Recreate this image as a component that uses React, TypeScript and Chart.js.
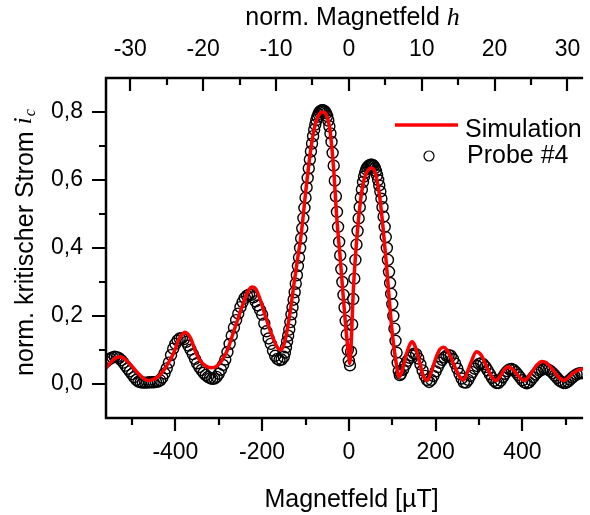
import React, { useEffect, useRef } from "react";
import { Chart, registerables } from "chart.js";

Chart.register(...registerables);

// Simulation (red line): field in µT, normalized critical current
const simField = [
  -560, -550, -540, -528, -515, -500, -485, -472, -463, -452, -440, -430, -418, -405, -392, -378, -365, -355,
  -345, -330, -318, -310, -300, -290, -280, -268, -255, -240, -230, -223, -215, -205, -195, -185, -175, -165,
  -158, -150, -142, -134, -126, -118, -110, -100, -90, -80, -70, -60, -50, -43, -35, -28, -20, -13, -6, -1, 2,
  6, 10, 16, 25, 33, 40, 47, 52, 58, 63, 70, 78, 86, 93, 100, 108, 116, 123, 132, 140, 146, 153, 162, 170, 180,
  190, 200, 210, 218, 226, 236, 248, 258, 264, 272, 282, 294, 305, 318, 330, 339, 348, 357, 366, 376, 388, 398,
  404, 412, 422, 433, 445, 456, 468, 480, 490, 496, 505, 515, 529, 540,
];
const simIc = [
  0.046, 0.062, 0.075, 0.08, 0.072, 0.052, 0.03, 0.015, 0.01, 0.013, 0.022, 0.035, 0.058, 0.088, 0.13, 0.152,
  0.135, 0.1, 0.072, 0.053, 0.048, 0.049, 0.058, 0.075, 0.1, 0.145, 0.195, 0.25, 0.278, 0.285, 0.28, 0.25, 0.21,
  0.17, 0.135, 0.108, 0.1, 0.115, 0.16, 0.225, 0.3, 0.37, 0.44, 0.56, 0.67, 0.75, 0.79, 0.8, 0.785, 0.74, 0.63,
  0.49, 0.37, 0.256, 0.15, 0.09, 0.06, 0.14, 0.27, 0.39, 0.52, 0.59, 0.62, 0.633, 0.635, 0.63, 0.61, 0.56, 0.47,
  0.36, 0.25, 0.15, 0.07, 0.02, 0.04, 0.085, 0.115, 0.124, 0.11, 0.07, 0.03, 0.01, 0.035, 0.075, 0.102, 0.108,
  0.1, 0.075, 0.04, 0.017, 0.012, 0.03, 0.065, 0.095, 0.085, 0.05, 0.02, 0.01, 0.022, 0.04, 0.051, 0.045, 0.028,
  0.014, 0.01, 0.018, 0.035, 0.055, 0.066, 0.062, 0.045, 0.025, 0.013, 0.01, 0.018, 0.03, 0.041, 0.045,
];

// Measurement "Probe #4" (open circles)
const probeField = [
  -560, -555, -550, -545, -540, -535, -530, -525, -520, -515, -510, -505, -500, -495, -490, -485, -480, -475,
  -470, -465, -460, -455, -450, -445, -440, -435, -430, -425, -420, -415, -410, -405, -400, -395, -390, -385,
  -380, -375, -370, -365, -360, -355, -350, -345, -340, -335, -330, -325, -320, -315, -310, -305, -300, -295,
  -290, -285, -280, -275, -270, -265, -260, -255, -250, -245, -240, -235, -230, -225, -220, -215, -210, -205,
  -200, -195, -190, -185, -180, -175, -170, -165, -160, -155,
  -150, -147.5, -145, -142.5, -140, -137.5, -135, -132.5, -130, -127.5, -125, -122.5, -120, -117.5, -115, -112.5,
  -110, -107.5, -105, -102.5, -100, -97.5, -95, -92.5, -90, -87.5, -85, -82.5, -80, -77.5, -75, -72.5, -70, -67.5,
  -65, -62.5, -60, -57.5, -55, -52.5, -50, -47.5, -45, -42.5, -40, -37.5, -35, -32.5, -30, -27.5, -25, -22.5, -20,
  -17.5, -15, -12.5, -10, -7.5, -5, -2.5, 0, 2.5, 5, 7.5, 10, 12.5, 15, 17.5, 20, 22.5, 25, 27.5, 30, 32.5, 35,
  37.5, 40, 42.5, 45, 47.5, 50, 52.5, 55, 57.5, 60, 62.5, 65, 67.5, 70, 72.5, 75, 77.5, 80, 82.5, 85, 87.5, 90,
  92.5, 95, 97.5, 100, 102.5, 105, 107.5, 110, 112.5, 115, 117.5, 120,
  125, 130, 135, 140, 145, 150, 155, 160, 165, 170, 175, 180, 185, 190, 195, 200, 205, 210, 215, 220, 225, 230,
  235, 240, 245, 250, 255, 260, 265, 270, 275, 280, 285, 290, 295, 300, 305, 310, 315, 320, 325, 330, 335, 340,
  345, 350, 355, 360, 365, 370, 375, 380, 385, 390, 395, 400, 405, 410, 415, 420, 425, 430, 435, 440, 445, 450,
  455, 460, 465, 470, 475, 480, 485, 490, 495, 500, 505, 510, 515, 520, 525, 530, 535, 540,
];
const probeIc = [
  0.065, 0.071, 0.075, 0.078, 0.08, 0.079, 0.076, 0.07, 0.063, 0.054, 0.045, 0.037, 0.029, 0.02, 0.012, 0.007,
  0.005, 0.004, 0.004, 0.004, 0.005, 0.005, 0.005, 0.006, 0.007, 0.011, 0.019, 0.031, 0.046, 0.063, 0.085, 0.104,
  0.118, 0.128, 0.134, 0.135, 0.132, 0.124, 0.113, 0.101, 0.088, 0.074, 0.061, 0.05, 0.041, 0.033, 0.026, 0.021,
  0.017, 0.015, 0.016, 0.021, 0.03, 0.042, 0.056, 0.072, 0.094, 0.118, 0.142, 0.166, 0.188, 0.207, 0.226, 0.241,
  0.253, 0.26, 0.263, 0.262, 0.255, 0.243, 0.231, 0.218, 0.204, 0.178, 0.155, 0.134, 0.118, 0.098, 0.083, 0.074,
  0.07, 0.072,
  0.08, 0.092, 0.108, 0.125, 0.142, 0.16, 0.182, 0.205, 0.225, 0.248, 0.27, 0.295, 0.32, 0.347, 0.372, 0.4, 0.428,
  0.458, 0.488, 0.518, 0.548, 0.578, 0.606, 0.634, 0.66, 0.684, 0.707, 0.729, 0.748, 0.763, 0.776, 0.786, 0.794,
  0.8, 0.803, 0.805, 0.805, 0.804, 0.801, 0.796, 0.788, 0.775, 0.758, 0.737, 0.712, 0.68, 0.642, 0.598, 0.552,
  0.506, 0.462, 0.418, 0.378, 0.338, 0.3, 0.262, 0.225, 0.186, 0.145, 0.1, 0.068, 0.055, 0.095, 0.175, 0.25, 0.31,
  0.365, 0.41, 0.45, 0.487, 0.52, 0.548, 0.572, 0.594, 0.61, 0.622, 0.631, 0.637, 0.641, 0.643, 0.645, 0.645,
  0.644, 0.641, 0.635, 0.626, 0.614, 0.6, 0.584, 0.566, 0.545, 0.52, 0.492, 0.462, 0.432, 0.4, 0.365, 0.33, 0.297,
  0.265, 0.235, 0.2, 0.163, 0.127, 0.092, 0.062, 0.038, 0.026, 0.03,
  0.042, 0.056, 0.068, 0.077, 0.084, 0.089, 0.088, 0.075, 0.058, 0.04, 0.024, 0.012, 0.006, 0.012, 0.024, 0.037,
  0.05, 0.062, 0.071, 0.078, 0.083, 0.085, 0.083, 0.073, 0.06, 0.045, 0.03, 0.016, 0.005, 0.004, 0.012, 0.024,
  0.035, 0.045, 0.053, 0.059, 0.061, 0.058, 0.05, 0.04, 0.029, 0.018, 0.009, 0.003, 0.003, 0.01, 0.02, 0.03,
  0.038, 0.043, 0.044, 0.041, 0.035, 0.027, 0.019, 0.011, 0.005, 0.002, 0.005, 0.012, 0.02, 0.028, 0.034, 0.039,
  0.042, 0.044, 0.044, 0.042, 0.038, 0.032, 0.025, 0.018, 0.011, 0.006, 0.003, 0.003, 0.007, 0.013, 0.019, 0.024,
  0.028, 0.031, 0.032, 0.032,
];

// Axes
const fieldMin = -560;
const fieldMax = 540;
const icMin = -0.1;
const icMax = 0.9;
const fieldPerH = 16.8; // µT per unit of normalized field h

const xMajorTicks = [-400, -200, 0, 200, 400];
const xMinorTicks = [-500, -300, -100, 100, 300, 500];
const xTickLabels = ["-400", "-200", "0", "200", "400"];
const topMajorTicks = [-30, -20, -10, 0, 10, 20, 30];
const topMinorTicks = [-25, -15, -5, 5, 15, 25];
const topTickLabels = ["-30", "-20", "-10", "0", "10", "20", "30"];
const yMajorTicks = [0, 0.2, 0.4, 0.6, 0.8];
const yMinorTicks = [0.1, 0.3, 0.5, 0.7];
const yTickLabels = ["0,0", "0,2", "0,4", "0,6", "0,8"];

const SANS = '"Liberation Sans", Arial, Helvetica, sans-serif';
const SERIF = '"Liberation Serif", "Times New Roman", serif';

const axesPlugin = {
  id: "originAxes",
  afterDraw(chart: any) {
    const { ctx, chartArea: a, scales } = chart;
    const sx = scales.x;
    const sy = scales.y;
    const st = scales.x2;
    ctx.save();
    ctx.strokeStyle = "#000";
    ctx.fillStyle = "#000";
    ctx.lineWidth = 2.5;
    ctx.lineCap = "butt";
    ctx.beginPath();
    ctx.moveTo(a.left - 1.2, a.top);
    ctx.lineTo(a.right, a.top);
    ctx.moveTo(a.left, a.top);
    ctx.lineTo(a.left, a.bottom);
    ctx.moveTo(a.left - 1.2, a.bottom);
    ctx.lineTo(a.right, a.bottom);
    ctx.stroke();

    ctx.lineWidth = 2.2;
    ctx.beginPath();
    // bottom ticks (outward)
    xMajorTicks.forEach((v) => {
      const px = Math.round(sx.getPixelForValue(v));
      ctx.moveTo(px, a.bottom);
      ctx.lineTo(px, a.bottom + 13);
    });
    xMinorTicks.forEach((v) => {
      const px = Math.round(sx.getPixelForValue(v));
      ctx.moveTo(px, a.bottom);
      ctx.lineTo(px, a.bottom + 7);
    });
    // top ticks (inward)
    topMajorTicks.forEach((v) => {
      const px = Math.round(st.getPixelForValue(v));
      ctx.moveTo(px, a.top);
      ctx.lineTo(px, a.top + 13);
    });
    topMinorTicks.forEach((v) => {
      const px = Math.round(st.getPixelForValue(v));
      ctx.moveTo(px, a.top);
      ctx.lineTo(px, a.top + 7);
    });
    // left ticks (outward)
    yMajorTicks.forEach((v) => {
      const py = Math.round(sy.getPixelForValue(v));
      ctx.moveTo(a.left, py);
      ctx.lineTo(a.left - 14, py);
    });
    yMinorTicks.forEach((v) => {
      const py = Math.round(sy.getPixelForValue(v));
      ctx.moveTo(a.left, py);
      ctx.lineTo(a.left - 7, py);
    });
    ctx.stroke();

    // tick labels
    ctx.font = `23px ${SANS}`;
    ctx.textBaseline = "alphabetic";
    ctx.textAlign = "center";
    xMajorTicks.forEach((v, i) => {
      ctx.fillText(xTickLabels[i], sx.getPixelForValue(v), 459);
    });
    topMajorTicks.forEach((v, i) => {
      ctx.fillText(topTickLabels[i], st.getPixelForValue(v), 56);
    });
    ctx.textAlign = "right";
    yMajorTicks.forEach((v, i) => {
      ctx.fillText(yTickLabels[i], 83, sy.getPixelForValue(v) + 6);
    });

    // bottom title
    ctx.font = `25px ${SANS}`;
    ctx.textAlign = "center";
    ctx.fillText("Magnetfeld [µT]", 351.5, 507);

    // top title with italic h
    ctx.textAlign = "left";
    const t1 = "norm. Magnetfeld ";
    ctx.font = `25px ${SANS}`;
    const w1 = ctx.measureText(t1).width;
    ctx.font = `italic 26px ${SERIF}`;
    const wh = ctx.measureText("h").width;
    const tx = 352.5 - (w1 + wh) / 2;
    ctx.font = `25px ${SANS}`;
    ctx.fillText(t1, tx, 25);
    ctx.font = `italic 26px ${SERIF}`;
    ctx.fillText("h", tx + w1, 25);

    // left title rotated, with italic i and subscript c
    const l1 = "norm. kritischer Strom ";
    ctx.font = `25px ${SANS}`;
    const lw1 = ctx.measureText(l1).width;
    ctx.font = `italic 26px ${SERIF}`;
    const lwi = ctx.measureText("i").width;
    ctx.font = `italic 16px ${SERIF}`;
    const lwc = ctx.measureText("c").width;
    const total = lw1 + lwi + lwc;
    ctx.translate(33, 243 + total / 2);
    ctx.rotate(-Math.PI / 2);
    ctx.font = `25px ${SANS}`;
    ctx.fillText(l1, 0, 0);
    ctx.font = `italic 26px ${SERIF}`;
    ctx.fillText("i", lw1, -2);
    ctx.font = `italic 16px ${SERIF}`;
    ctx.fillText("c", lw1 + lwi + 1, 2);
    ctx.setTransform(1, 0, 0, 1, 0, 0);

    // legend
    ctx.strokeStyle = "#ff0000";
    ctx.lineWidth = 3.5;
    ctx.beginPath();
    ctx.moveTo(395, 125);
    ctx.lineTo(458, 125);
    ctx.stroke();
    ctx.strokeStyle = "#000";
    ctx.lineWidth = 1.2;
    ctx.beginPath();
    ctx.arc(429, 156, 5, 0, Math.PI * 2);
    ctx.stroke();
    ctx.fillStyle = "#000";
    ctx.font = `25px ${SANS}`;
    ctx.textAlign = "left";
    ctx.fillText("Simulation", 465, 136.5);
    ctx.fillText("Probe #4", 467, 163);
    ctx.restore();
  },
};

export default function App() {
  const canvasRef = useRef<HTMLCanvasElement | null>(null);

  useEffect(() => {
    const canvas = canvasRef.current;
    if (!canvas) return;
    const simData = simField.map((x, i) => ({ x, y: simIc[i] }));
    const probeData = probeField.map((x, i) => ({ x, y: probeIc[i] }));
    const chart = new Chart(canvas, {
      type: "line",
      data: {
        datasets: [
          {
            label: "Simulation",
            data: simData,
            borderColor: "#ff0000",
            borderWidth: 3.5,
            pointRadius: 0,
            cubicInterpolationMode: "monotone",
            fill: false,
            order: 0,
          },
          {
            label: "Probe #4",
            data: probeData,
            showLine: false,
            pointRadius: 5.5,
            pointBorderWidth: 1.4,
            pointBorderColor: "#000",
            pointBackgroundColor: "rgba(0,0,0,0)",
            pointStyle: "circle",
            order: 1,
          },
        ],
      },
      options: {
        responsive: false,
        animation: false,
        devicePixelRatio: 1,
        events: [],
        layout: { padding: { left: 106, right: 0, top: 78, bottom: 97 } },
        plugins: { legend: { display: false }, tooltip: { enabled: false }, title: { display: false } },
        scales: {
          x: { type: "linear", min: fieldMin, max: fieldMax, display: false },
          x2: {
            type: "linear",
            position: "top",
            min: fieldMin / fieldPerH,
            max: fieldMax / fieldPerH,
            display: false,
          },
          y: { type: "linear", min: icMin, max: icMax, display: false },
        },
      },
      plugins: [axesPlugin],
    });
    return () => chart.destroy();
  }, []);

  return (
    <div style={{ position: "absolute", left: 0, top: 0, width: 590, height: 515, background: "#fff" }}>
      <canvas ref={canvasRef} width={590} height={515} style={{ display: "block" }} />
    </div>
  );
}
